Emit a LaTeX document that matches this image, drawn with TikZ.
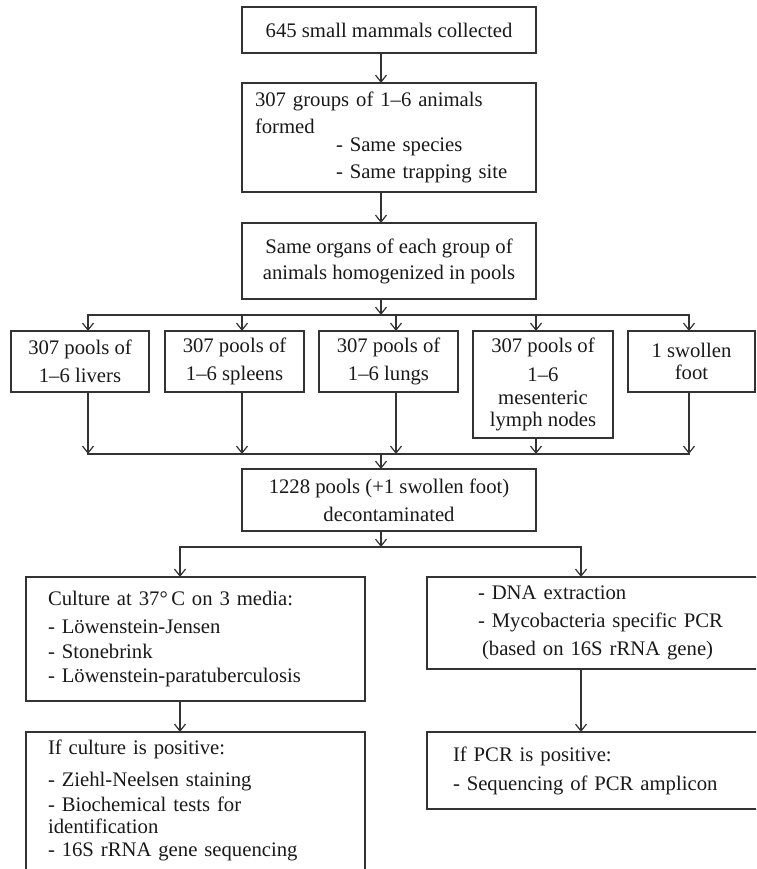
\documentclass[tikz,border=0pt]{standalone}
\usepackage{fontspec}
\setmainfont{Liberation Serif}
\usetikzlibrary{arrows.meta}
\begin{document}
\begin{tikzpicture}[x=1pt,y=-1pt,
  every node/.style={font=\fontsize{20.7}{27}\selectfont, text=black!90},
  box/.style={draw=black!80, line width=1.2pt, inner sep=0pt, outer sep=0pt, anchor=north west},
  arr/.style={draw=black!80, line width=1.2pt, -{Straight Barb[length=7pt,width=11pt]}},
  ln/.style={draw=black!80, line width=1.2pt, line cap=rect}]
\path[use as bounding box, clip] (0,0) rectangle (756,869);

% main column
\node[box, minimum width=294pt, minimum height=46pt, align=center] (b1) at (242,7)
  {645 small mammals collected};
\node[box, minimum width=294pt, minimum height=109pt, text width=268pt, align=left] (b2) at (242,83)
  {307 groups of 1–6 animals\\formed\\[-9pt]\hspace*{81pt}- Same species\\\hspace*{81pt}- Same trapping site};
\node[box, minimum width=294pt, minimum height=76pt, align=center] (b3) at (242,223)
  {Same organs of each group of\\[-1pt]animals homogenized in pools};

% organ row
\node[box, minimum width=138pt, minimum height=61pt, align=center] (livers) at (11,331)
  {307 pools of\\[1pt]1–6 livers};
\node[box, minimum width=139pt, minimum height=61pt, align=center] (spleens) at (165,331)
  {307 pools of\\[1pt]1–6 spleens};
\node[box, minimum width=139pt, minimum height=61pt, align=center] (lungs) at (319,331)
  {307 pools of\\[1pt]1–6 lungs};
\node[box, minimum width=140pt, minimum height=107pt, align=center] (lymph) at (473,331)
  {307 pools of\\[2pt]1–6\\[-4pt]mesenteric\\[-5pt]lymph nodes};
\node[box, minimum width=127pt, minimum height=61pt, align=center] (foot) at (628,331)
  {1 swollen\\[-5pt]foot};

\node[box, minimum width=294pt, minimum height=62pt, align=center] (pool) at (242,469)
  {1228 pools (+1 swollen foot)\\[1pt]decontaminated};

% lower branches
\node[box, minimum width=339pt, minimum height=124pt, text width=295pt, align=left] (culture) at (26,577)
  {Culture at 37°\,C on 3 media:\\[1pt]- Löwenstein-Jensen\\[-2pt]- Stonebrink\\[-3pt]- Löwenstein-paratuberculosis};
\node[box, minimum width=400pt, minimum height=92pt, text width=298pt, align=left] (dna) at (427,577)
  {- DNA extraction\\[1pt]- Mycobacteria specific PCR\\[1pt]\hspace*{4pt}(based on 16S rRNA gene)};
\node[box, minimum width=339pt, inner ysep=8pt, text width=295pt, align=left] (culpos) at (26,732)
  {If culture is positive:\\[5pt]- Ziehl-Neelsen staining\\[-2pt]- Biochemical tests for\\[-5pt]identification\\[-4pt]- 16S rRNA gene sequencing\\[20pt]\mbox{}};
\node[box, minimum width=400pt, minimum height=77pt, text width=348pt, align=left] (pcrpos) at (427,732)
  {If PCR is positive:\\[2pt]- Sequencing of PCR amplicon};

% helper coordinates
\coordinate (m) at (381,0);
\coordinate (x1) at (88,0);
\coordinate (x2) at (242,0);
\coordinate (x3) at (396,0);
\coordinate (x4) at (536,0);
\coordinate (x5) at (689,0);
\coordinate (t1) at (88,315);
\coordinate (t5) at (689,315);
\coordinate (u1) at (88,454);
\coordinate (u5) at (689,454);
\coordinate (s1) at (180,547);
\coordinate (s2) at (581,547);

% connectors
\draw[arr] (b1.south -| m) -- (b2.north -| m);
\draw[arr] (b2.south -| m) -- (b3.north -| m);
\draw[arr] (b3.south -| m) -- (t1 -| m);
\draw[ln] (t1) -- (t5);
\draw[arr] (t1 -| x1) -- (livers.north -| x1);
\draw[arr] (t1 -| x2) -- (spleens.north -| x2);
\draw[arr] (t1 -| x3) -- (lungs.north -| x3);
\draw[arr] (t1 -| x4) -- (lymph.north -| x4);
\draw[arr] (t1 -| x5) -- (foot.north -| x5);
\draw[arr] (livers.south -| x1) -- (u1 -| x1);
\draw[arr] (spleens.south -| x2) -- (u1 -| x2);
\draw[arr] (lungs.south -| x3) -- (u1 -| x3);
\draw[arr] (lymph.south -| x4) -- (u1 -| x4);
\draw[arr] (foot.south -| x5) -- (u1 -| x5);
\draw[ln] (u1) -- (u5);
\draw[arr] (u1 -| m) -- (pool.north -| m);
\draw[arr] (pool.south -| m) -- (s1 -| m);
\draw[ln] (s1) -- (s2);
\draw[arr] (s1) -- (culture.north -| s1);
\draw[arr] (s2) -- (dna.north -| s2);
\draw[arr] (culture.south -| s1) -- (culpos.north -| s1);
\draw[arr] (dna.south -| s2) -- (pcrpos.north -| s2);
\end{tikzpicture}
\end{document}
